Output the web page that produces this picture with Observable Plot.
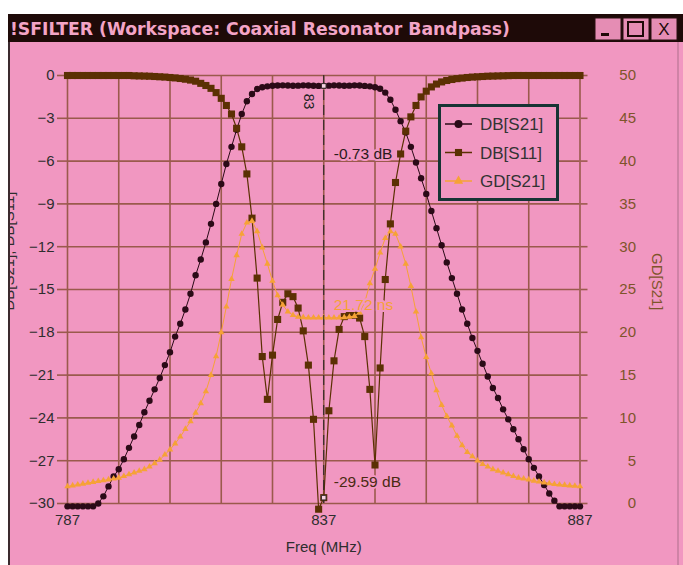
<!DOCTYPE html>
<html><head><meta charset="utf-8">
<script src="https://cdn.jsdelivr.net/npm/d3@7"></script>
<script src="https://cdn.jsdelivr.net/npm/@observablehq/plot@0.6"></script>
<style>
body{margin:0;background:#fff;}
#win{position:absolute;left:0;top:0;width:683px;height:565px;overflow:hidden;background:#fff;}
#titlebar{position:absolute;left:0;top:0;}
#chart{position:absolute;left:0;top:42px;}
#lborder{position:absolute;left:0;top:42px;width:8px;height:523px;background:#fff;border-right:2px solid #3b2a2e;}
#rborder{position:absolute;left:677px;top:42px;width:2px;height:523px;background:#cf83a6;}
#legend{position:absolute;left:438px;top:104px;}
</style>
</head><body>
<div id="win">
  <svg id="titlebar" width="683" height="42">
    <rect x="8" y="14" width="675" height="28" fill="#1e0a08"></rect>
    <text x="10" y="35" fill="#f3a4c6" font-family="Liberation Sans Narrow, DejaVu Sans Condensed, sans-serif" font-weight="bold" font-size="18" textLength="500" lengthAdjust="spacingAndGlyphs">!SFILTER  (Workspace: Coaxial Resonator Bandpass)</text>
    <rect x="595" y="18" width="26" height="22" fill="#e58db4" stroke="#2a1010"></rect>
    <rect x="601" y="33" width="8" height="3" fill="#1e0a08"></rect>
    <rect x="623" y="18" width="26" height="22" fill="#e58db4" stroke="#2a1010"></rect>
    <rect x="628" y="22" width="15" height="14" fill="none" stroke="#1e0a08" stroke-width="2"></rect>
    <rect x="651" y="18" width="26" height="22" fill="#e58db4" stroke="#2a1010"></rect>
    <text x="664" y="35" text-anchor="middle" fill="#1e0a08" font-family="Liberation Sans, sans-serif" font-size="17">X</text>
  </svg>
  <div id="chart"></div>
  <div id="lborder"></div>
  <div id="rborder"></div>
  <svg id="legend" width="121" height="97"></svg>
</div>
<script>
// ---- data ----
const freqs = [787,788,789,790,791,792,793,794,795,796,797,798,799,800,801,802,803,804,805,806,807,808,809,810,811,812,813,814,815,816,817,818,819,820,821,822,823,824,825,826,827,828,829,830,831,832,833,834,835,836,837,838,839,840,841,842,843,844,845,846,847,848,849,850,851,852,853,854,855,856,857,858,859,860,861,862,863,864,865,866,867,868,869,870,871,872,873,874,875,876,877,878,879,880,881,882,883,884,885,886,887];

const dbS21 = [-30.2,-30.2,-30.2,-30.2,-30.2,-30.2,-30.0,-29.5,-28.8,-28.1,-27.6,-26.9,-26.1,-25.3,-24.5,-23.6,-22.8,-22.0,-21.2,-20.3,-19.4,-18.3,-17.4,-16.4,-15.3,-14.0,-12.9,-11.7,-10.4,-9.0,-7.6,-6.2,-5.0,-3.8,-2.7,-1.8,-1.3,-0.95,-0.82,-0.76,-0.72,-0.70,-0.69,-0.70,-0.72,-0.71,-0.69,-0.70,-0.72,-0.73,-0.73,-0.71,-0.69,-0.70,-0.72,-0.71,-0.69,-0.70,-0.73,-0.76,-0.82,-0.93,-1.2,-1.7,-2.4,-3.2,-4.0,-5.0,-6.1,-7.2,-8.3,-9.5,-10.7,-11.9,-13.1,-14.2,-15.3,-16.4,-17.4,-18.4,-19.3,-20.2,-21.1,-21.9,-22.6,-23.4,-24.1,-24.8,-25.5,-26.2,-26.9,-27.5,-28.1,-28.7,-29.3,-29.8,-30.2,-30.2,-30.2,-30.2,-30.2];

const dbS11 = [0,0,0,0,0,0,0,0,0,0,0,0,0,-0.02,-0.03,-0.04,-0.05,-0.07,-0.09,-0.11,-0.14,-0.17,-0.21,-0.26,-0.32,-0.4,-0.55,-0.7,-0.9,-1.2,-1.6,-2.1,-2.7,-3.7,-5.0,-6.9,-10.0,-14.2,-19.7,-22.7,-19.6,-17.1,-15.9,-15.3,-15.5,-16.3,-17.9,-20.3,-24.1,-30.4,-29.59,-23.5,-20.0,-17.8,-16.9,-16.8,-16.8,-17.0,-18.3,-22.0,-27.3,-20.5,-14.3,-10.4,-7.5,-5.5,-3.9,-2.9,-2.1,-1.5,-1.1,-0.8,-0.6,-0.45,-0.35,-0.28,-0.22,-0.18,-0.14,-0.11,-0.09,-0.07,-0.05,-0.04,-0.03,-0.02,-0.01,0,0,0,0,0,0,0,0,0,0,0,0,0,0];

const gdS21 = [2.0,2.1,2.2,2.3,2.4,2.5,2.6,2.7,2.8,2.9,3.0,3.2,3.4,3.6,3.8,4.0,4.3,4.7,5.1,5.7,6.3,7.0,7.8,8.7,9.6,10.6,11.7,13.1,15.0,17.2,20.0,23.0,26.2,29.0,31.5,32.8,33.0,31.8,29.9,28.0,26.0,24.3,23.2,22.4,22.0,21.8,21.75,21.7,21.7,21.7,21.72,21.7,21.7,21.7,21.75,21.8,21.9,22.3,23.5,25.7,27.4,29.3,31.0,31.8,31.5,30.0,28.0,25.4,22.4,19.4,17.1,15.2,13.2,11.5,10.2,9.1,7.9,6.8,6.0,5.5,5.0,4.6,4.3,4.0,3.8,3.6,3.4,3.2,3.0,2.9,2.8,2.65,2.55,2.45,2.35,2.25,2.2,2.15,2.1,2.05,2.0];

const xGridTicks = [787,797,807,817,827,837,847,857,867,877,887];
const xLabelTicks = [787,837,887];
const yTicksDb = [0,-3,-6,-9,-12,-15,-18,-21,-24,-27,-30];
const yTicksNs = [0,5,10,15,20,25,30,35,40,45,50];
const markerFreq = 837;
const markerS21 = -0.73;
const markerS11 = -29.59;
const markerGD = 21.72;
const seriesNames = ["DB[S21]","DB[S11]","GD[S21]"];

// ---- styling ----
const C_S21 = "#2b0a17", C_S11 = "#5b3003", C_GD = "#f6a236";
const C_GRID = "#9a5a4c", BG = "#f197c1";
// map ns (right axis 0..50) onto the dB scale (-30..0)
const nsToDb = ns => ns * 30 / 50 - 30;

const rows = freqs.map((f, i) => ({f, s21: dbS21[i], s11: dbS11[i], gd: nsToDb(gdS21[i])}));
const halo = {stroke: BG, strokeWidth: 4, paintOrder: "stroke"};

const chart = Plot.plot({
  width: 683, height: 523,
  marginLeft: 67, marginRight: 103.5, marginTop: 33, marginBottom: 62,
  style: {background: BG, fontFamily: "Liberation Sans, Arial, sans-serif", fontSize: "15px", color: "#2e2e2e"},
  x: {domain: [787, 887]},
  y: {domain: [-30, 0]},
  marks: [
    Plot.gridX(xGridTicks, {stroke: C_GRID, strokeOpacity: 1, strokeWidth: 1.6}),
    Plot.gridY(yTicksDb, {stroke: C_GRID, strokeOpacity: 1, strokeWidth: 1.6}),
    Plot.axisY(yTicksDb, {anchor: "left", tickSize: 10, tickPadding: 3, stroke: C_GRID, strokeWidth: 1.6, fill: "#2e2e2e", fontSize: 15}),
    Plot.axisY(yTicksNs.map(nsToDb), {anchor: "right", tickSize: 7, tickPadding: 49, stroke: C_GRID, strokeWidth: 1.6, fill: "#7e542a", fontSize: 15,
      textAnchor: "end", tickFormat: d => String(Math.round((d + 30) * 50 / 30))}),
    Plot.axisX(xLabelTicks, {anchor: "bottom", tickSize: 0, tickPadding: 11, fill: "#2e2e2e", fontSize: 15, label: null}),
    Plot.text(["Freq (MHz)"], {frameAnchor: "bottom", dy: 48, fill: "#2e2e2e", fontSize: 15}),
    Plot.text(["GD[S21]"], {frameAnchor: "right", dx: 77, dy: 21, rotate: 90, fill: "#7e542a", fontSize: 15}),
    Plot.text(["DB[S21], DB[S11]"], {frameAnchor: "left", dx: -58, dy: 21, rotate: -90, fill: "#2e2e2e", fontSize: 15}),
    // series
    Plot.line(rows, {x: "f", y: "s21", stroke: C_S21, strokeWidth: 1}),
    Plot.dot(rows, {x: "f", y: "s21", r: 3.2, fill: C_S21, stroke: "none"}),
    Plot.line(rows, {x: "f", y: "s11", stroke: C_S11, strokeWidth: 1.2}),
    Plot.dot(rows, {x: "f", y: "s11", symbol: "square", r: 4, fill: C_S11, stroke: "none"}),
    Plot.line(rows, {x: "f", y: "gd", stroke: C_GD, strokeWidth: 1}),
    Plot.dot(rows, {x: "f", y: "gd", symbol: "triangle", r: 2.4, fill: C_GD, stroke: "none"}),
    // marker
    Plot.ruleX([markerFreq], {stroke: "#222", strokeWidth: 1, strokeDasharray: "10,5"}),
    Plot.dot([{f: markerFreq, v: markerS21}, {f: markerFreq, v: markerS11}], {x: "f", y: "v", symbol: "square", r: 2.6, fill: "#f6d2e2", stroke: "#3a2a2a", strokeWidth: 1}),
    Plot.text([String(markerFreq)], {x: () => markerFreq, frameAnchor: "top", dx: -10, dy: 26, rotate: 90, fill: "#222", fontSize: 14, text: d => d.slice(0, 2)}),
    Plot.text([{f: markerFreq, v: markerS21}], {x: "f", y: "v", text: d => d.v.toFixed(2) + " dB", dx: 10, dy: 68, textAnchor: "start", fill: "#2a1a1a", fontSize: 15.5, ...halo}),
    Plot.text([{f: markerFreq, v: nsToDb(markerGD)}], {x: "f", y: "v", text: () => markerGD.toFixed(2) + " ns", dx: 10, dy: -13, textAnchor: "start", fill: C_GD, fontSize: 15.5, ...halo}),
    Plot.text([{f: markerFreq, v: markerS11}], {x: "f", y: "v", text: d => d.v.toFixed(2) + " dB", dx: 10, dy: -16, textAnchor: "start", fill: "#4a2a12", fontSize: 15.5, ...halo})
  ]
});
document.getElementById("chart").appendChild(chart);

// legend
const lg = d3.select("#legend");
lg.append("rect").attr("x", 1.5).attr("y", 1.5).attr("width", 118).attr("height", 94)
  .attr("fill", BG).attr("stroke", "#163434").attr("stroke-width", 3);
const legendItems = [
  {name: seriesNames[0], color: C_S21, sym: d3.symbolCircle, size: Math.PI * 16},
  {name: seriesNames[1], color: C_S11, sym: d3.symbolSquare, size: Math.PI * 16},
  {name: seriesNames[2], color: C_GD, sym: d3.symbolTriangle, size: Math.PI * 12}
];
legendItems.forEach((it, i) => {
  const y = 20 + i * 28.5;
  lg.append("line").attr("x1", 7).attr("x2", 34).attr("y1", y).attr("y2", y).attr("stroke", it.color).attr("stroke-width", 1.5);
  lg.append("path").attr("d", d3.symbol(it.sym, it.size)()).attr("transform", `translate(20.5,${y})`).attr("fill", it.color);
  lg.append("text").attr("x", 42).attr("y", y).attr("dy", "0.36em").attr("fill", "#333")
    .attr("font-family", "Liberation Sans, Arial, sans-serif").attr("font-size", 17).text(it.name);
});
</script>
</body></html>
